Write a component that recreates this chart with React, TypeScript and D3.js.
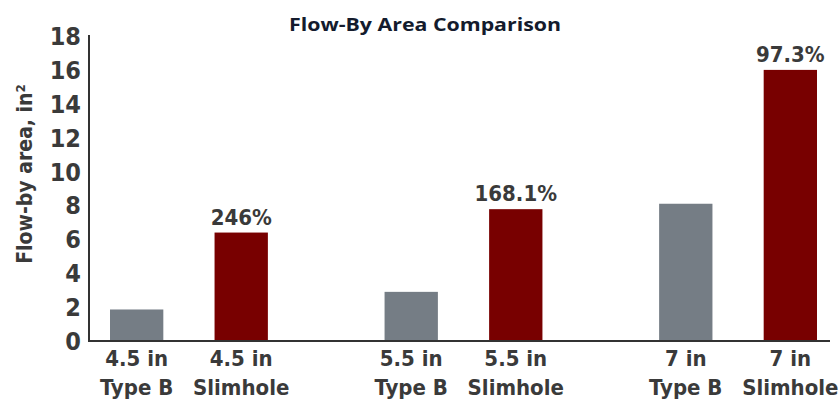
import React from "react";
import * as d3 from "d3";

const groups = ["4.5 in", "5.5 in", "7 in"];
const seriesNames = ["Type B", "Slimhole"];
const typeBValues = [1.86, 2.9, 8.1];
const slimholeValues = [6.4, 7.78, 16.0];
const increaseLabels = ["246%", "168.1%", "97.3%"];
const yTicks = [0, 2, 4, 6, 8, 10, 12, 14, 16, 18];

const W = 839;
const H = 409;
const colors = ["#757d85", "#780000"];
const condensed = "'DejaVu Sans Condensed', 'DejaVu Sans', sans-serif";

const condStyle: React.CSSProperties = { fontStretch: "condensed" };

export default function App() {
  const y = d3.scaleLinear().domain([0, 18]).range([341, 36]);
  const xg = d3.scaleBand<string>().domain(groups).range([110, 817]).paddingInner(0.425).paddingOuter(0);
  const xi = d3.scaleBand<string>().domain(seriesNames).range([0, xg.bandwidth()]).paddingInner(0.49).paddingOuter(0);

  const values = [typeBValues, slimholeValues];

  return (
    <svg width={W} height={H} style={{ position: "absolute", left: 0, top: 0, background: "#fff" }}>
      <text x={425} y={31} textAnchor="middle" fontFamily="'Open Sans', sans-serif" fontWeight={700} fontSize={18} fill="#141b2d" textLength={272} lengthAdjust="spacingAndGlyphs">
        Flow-By Area Comparison
      </text>
      {/* y axis label */}
      <text
        transform={`translate(32,${174}) rotate(-90)`}
        textAnchor="middle"
        fontFamily={condensed}
        fontWeight={700}
        fontSize={21}
        fill="#3a3a3a"
        style={condStyle}
      >
        Flow-by area, in²
      </text>
      {/* tick labels */}
      {yTicks.map((t) => (
        <text key={t} x={81} y={y(t)} dy="0.36em" textAnchor="end" fontFamily={condensed} fontWeight={700} fontSize={25} fill="#3a3a3a" style={condStyle}>
          {t}
        </text>
      ))}
      {/* bars */}
      {groups.map((g, gi) =>
        seriesNames.map((s, si) => {
          const v = values[si][gi];
          const x0 = (xg(g) ?? 0) + (xi(s) ?? 0);
          return (
            <rect key={g + s} x={x0} y={y(v)} width={xi.bandwidth()} height={y(0) - y(v)} fill={colors[si]} />
          );
        })
      )}
      {/* percent labels */}
      {groups.map((g, gi) => {
        const cx = (xg(g) ?? 0) + (xi("Slimhole") ?? 0) + xi.bandwidth() / 2;
        return (
          <text key={g} x={cx} y={y(slimholeValues[gi]) - 8} textAnchor="middle" fontFamily={condensed} fontWeight={700} fontSize={22} fill="#3a3a3a" style={condStyle}>
            {increaseLabels[gi]}
          </text>
        );
      })}
      {/* axes lines */}
      <line x1={89} x2={89} y1={35} y2={y(0) + 1} stroke="#333" strokeWidth={2} />
      <line x1={88} x2={830} y1={y(0)} y2={y(0)} stroke="#333" strokeWidth={2} />
      {/* x labels */}
      {groups.map((g, gi) =>
        seriesNames.map((s) => {
          const cx = (xg(g) ?? 0) + (xi(s) ?? 0) + xi.bandwidth() / 2;
          return (
            <text key={g + s} textAnchor="middle" fontFamily={condensed} fontWeight={700} fontSize={22} fill="#3a3a3a" style={condStyle}>
              <tspan x={cx} y={366}>{g}</tspan>
              <tspan x={cx} y={395}>{s}</tspan>
            </text>
          );
        })
      )}
    </svg>
  );
}
